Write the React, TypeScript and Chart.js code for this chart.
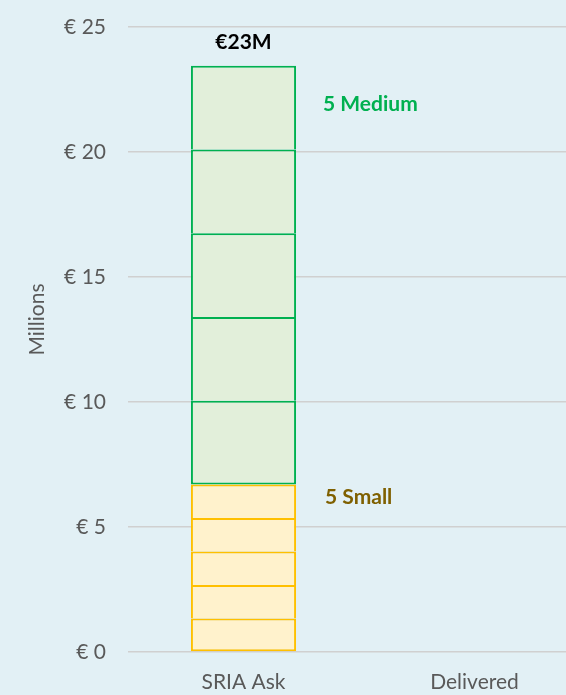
import React, { useEffect, useRef } from "react";
import { Chart, registerables } from "chart.js";

Chart.register(...registerables);

const categories = ["SRIA Ask", "Delivered"];
const smallProjectValues = [1.34, 1.34, 1.34, 1.34, 1.34];
const mediumProjectValues = [3.35, 3.35, 3.35, 3.35, 3.35];
const yTicks = [0, 5, 10, 15, 20, 25];
const totalLabel = "€23M";
const mediumLabel = "5 Medium";
const smallLabel = "5 Small";
const mediumLabelValue = 21.9;
const smallLabelValue = 6.2;
const axisTitle = "Millions";
const axisTitleValue = 13.3;

const BG = "#E2F0F5";
const FONT = "Lato, 'Open Sans', sans-serif";

export default function App() {
  const ref = useRef<HTMLCanvasElement>(null);

  useEffect(() => {
    document.body.style.margin = "0";
    document.body.style.overflow = "hidden";
    document.body.style.background = BG;
    const canvas = ref.current!;
    const total = [...smallProjectValues, ...mediumProjectValues].reduce((a, b) => a + b, 0);

    const datasets: any[] = [];
    const n = smallProjectValues.length + mediumProjectValues.length;
    smallProjectValues.forEach((v, i) => {
      datasets.push({
        label: "Small " + (i + 1),
        data: [v, null],
        backgroundColor: "#FFF2CC",
        borderColor: "#FFC000",
        borderWidth: { left: 2, right: 2, top: 2, bottom: i === 0 ? 2 : 0 },
        borderSkipped: false,
        inflateAmount: 0,
      });
    });
    mediumProjectValues.forEach((v, i) => {
      datasets.push({
        label: "Medium " + (i + 1),
        data: [v, null],
        backgroundColor: "#E2EFDA",
        borderColor: "#00B050",
        borderWidth: { left: 2, right: 2, top: 2, bottom: i === 0 ? 2 : 0 },
        borderSkipped: false,
        inflateAmount: 0,
      });
    });

    const labelPlugin = {
      id: "labels",
      afterDatasetsDraw(chart: any) {
        const ctx = chart.ctx;
        const y = chart.scales.y;
        const bar = chart.getDatasetMeta(n - 1).data[0] as any;
        const right = bar.x + bar.width / 2;
        ctx.save();
        ctx.textBaseline = "middle";
        ctx.font = `bold 21px ${FONT}`;
        ctx.fillStyle = "#000000";
        ctx.textAlign = "center";
        ctx.fillText(totalLabel, bar.x, y.getPixelForValue(total) - 24);
        ctx.textAlign = "left";
        ctx.fillStyle = "#00B050";
        ctx.fillText(mediumLabel, right + 27, y.getPixelForValue(mediumLabelValue));
        ctx.fillStyle = "#7F6000";
        ctx.fillText(smallLabel, right + 29, y.getPixelForValue(smallLabelValue));
        // y-axis title
        ctx.translate(37, y.getPixelForValue(axisTitleValue));
        ctx.rotate(-Math.PI / 2);
        ctx.textAlign = "center";
        ctx.font = `21px ${FONT}`;
        ctx.fillStyle = "#595959";
        ctx.fillText(axisTitle, 0, 0);
        ctx.restore();
      },
    };

    const chart = new Chart(canvas, {
      type: "bar",
      data: { labels: categories, datasets },
      options: {
        responsive: false,
        animation: false,
        layout: { padding: { top: 27, right: 0, bottom: 0, left: 0 } },
        datasets: { bar: { categoryPercentage: 1, barPercentage: 0.455 } },
        plugins: { legend: { display: false }, tooltip: { enabled: false } },
        scales: {
          x: {
            stacked: true,
            grid: { display: false, drawTicks: false },
            border: { display: false },
            ticks: { color: "#595959", font: { family: FONT, size: 21 }, padding: 18 },
            afterFit: (s: any) => {
              s.height = 43;
            },
          },
          y: {
            stacked: true,
            min: 0,
            max: 25,
            afterBuildTicks: (s: any) => {
              s.ticks = yTicks.map((v) => ({ value: v }));
            },
            afterFit: (s: any) => {
              s.width = 128;
            },
            grid: { color: "#D0D0D0", lineWidth: 1.5, drawTicks: true, tickLength: 22, tickColor: "rgba(0,0,0,0)" },
            border: { display: false },
            ticks: {
              color: "#595959",
              font: { family: FONT, size: 21 },
              padding: 0,
              callback: (v: any) => "€ " + v,
            },
            title: { display: false },
          },
        },
      },
      plugins: [labelPlugin],
    });
    return () => chart.destroy();
  }, []);

  return (
    <div style={{ position: "fixed", left: 0, top: 0, width: 566, height: 695, overflow: "hidden", background: BG }}>
      <canvas ref={ref} width={590} height={695} style={{ width: 590, height: 695, display: "block" }} />
    </div>
  );
}
